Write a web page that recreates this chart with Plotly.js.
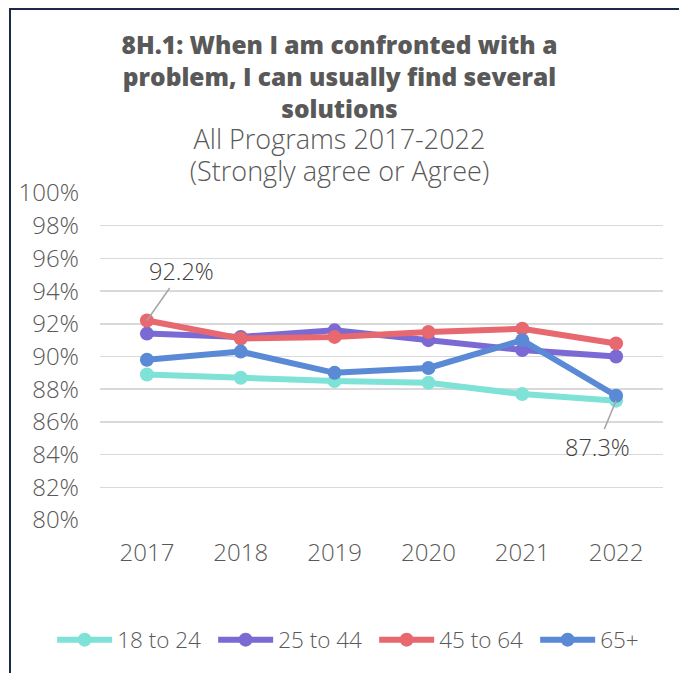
<!DOCTYPE html>
<html>
<head>
<meta charset="utf-8">
<script src="https://cdn.plot.ly/plotly-3.0.1.min.js"></script>
<style>
  html, body { margin: 0; padding: 0; background: #ffffff; }
  #chart { position: absolute; left: 0; top: 0; width: 679px; height: 673px; }
  #frame { position: absolute; left: 9px; top: 8px; width: 700px; height: 700px;
           border-left: 2px solid #1b2a4a; border-top: 2px solid #1b2a4a; pointer-events: none; }
</style>
</head>
<body>
<div id="chart"></div>
<div id="frame"></div>
<script>
const years = ['2017', '2018', '2019', '2020', '2021', '2022'];
const seriesNames = ['18 to 24', '25 to 44', '45 to 64', '65+'];
const age18to24 = [88.9, 88.7, 88.5, 88.4, 87.7, 87.3];
const age25to44 = [91.4, 91.2, 91.6, 91.0, 90.4, 90.0];
const age45to64 = [92.2, 91.1, 91.2, 91.5, 91.7, 90.8];
const age65plus = [89.8, 90.3, 89.0, 89.3, 91.0, 87.6];
const seriesColors = ['#7ee2d7', '#7b69d4', '#e8686f', '#5a8ad6'];
const yTicks = [80, 82, 84, 86, 88, 90, 92, 94, 96, 98, 100];

const FONT = '"Open Sans", Lato, sans-serif';
const allSeries = [age18to24, age25to44, age45to64, age65plus];
const traces = allSeries.map((vals, i) => ({
  type: 'scatter',
  mode: 'lines+markers',
  name: seriesNames[i],
  x: years,
  y: vals,
  line: { color: seriesColors[i], width: 6 },
  marker: { color: seriesColors[i], size: 14 },
  hoverinfo: 'skip'
}));

const layout = {
  width: 679,
  height: 673,
  margin: { l: 100, r: 16, t: 193, b: 153, autoexpand: false },
  paper_bgcolor: '#ffffff',
  plot_bgcolor: '#ffffff',
  font: { family: FONT, color: '#595959', size: 23, weight: 300 },
  title: {
    text: '<span style="font-weight:800">8H.1: When I am confronted with a<br>problem, I can usually find several<br>solutions</span><br>' +
          '<span style="font-size:27px;font-weight:300">All Programs 2017-2022</span><br>' +
          '<span style="font-size:27px;font-weight:300">(Strongly agree or Agree)</span>',
    font: { family: FONT, size: 24.5, color: '#595959', weight: 400 },
    x: 0.5, xref: 'container', xanchor: 'center',
    y: 0.92, yref: 'container', yanchor: 'top'
  },
  xaxis: {
    type: 'category',
    range: [-0.5, 5.5],
    showgrid: false,
    zeroline: false,
    showline: false,
    ticks: '',
    ticklabelstandoff: 16,
    tickfont: { family: FONT, size: 24, color: '#595959', weight: 300 }
  },
  yaxis: {
    range: [80, 100],
    tickvals: yTicks,
    ticktext: yTicks.map(v => v + '%'),
    showgrid: true,
    gridcolor: '#d9d9d9',
    gridwidth: 1.5,
    zeroline: false,
    showline: false,
    ticks: '',
    ticklabelstandoff: 20,
    tickfont: { family: FONT, size: 24, color: '#595959', weight: 300 }
  },
  legend: {
    orientation: 'h',
    x: -0.085, xref: 'paper', xanchor: 'left',
    y: -0.367, yref: 'paper', yanchor: 'middle',
    font: { family: FONT, size: 22.5, color: '#595959', weight: 300 },
    itemwidth: 55,
    entrywidth: 91,
    entrywidthmode: 'pixels',
    tracegroupgap: 0,
    traceorder: 'normal'
  },
  showlegend: true,
  annotations: [
    {
      x: 0, y: age45to64[0], xref: 'x', yref: 'y',
      text: age45to64[0].toFixed(1) + '%',
      showarrow: true, arrowhead: 0, arrowwidth: 1.5, arrowcolor: '#a6a6a6',
      ax: 35, ay: -50,
      font: { family: FONT, size: 23.5, color: '#404040', weight: 300 }
    },
    {
      x: 5, y: age18to24[5], xref: 'x', yref: 'y',
      text: age18to24[5].toFixed(1) + '%',
      showarrow: true, arrowhead: 0, arrowwidth: 1.5, arrowcolor: '#a6a6a6',
      ax: -19, ay: 46,
      font: { family: FONT, size: 23.5, color: '#404040', weight: 300 }
    }
  ]
};

Plotly.newPlot('chart', traces, layout, { displayModeBar: false, staticPlot: true });
</script>
</body>
</html>
